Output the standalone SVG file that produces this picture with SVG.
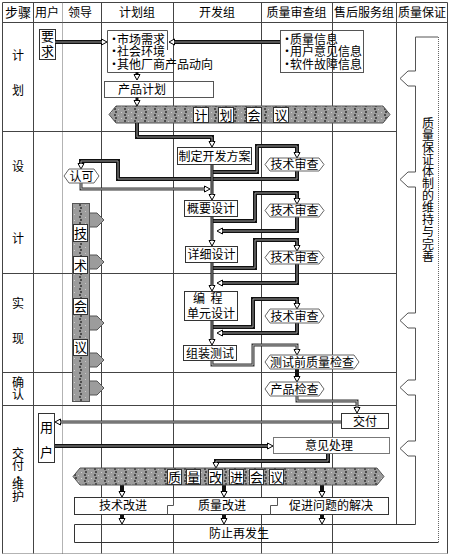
<svg xmlns="http://www.w3.org/2000/svg" width="450" height="556" viewBox="0 0 450 556">
<style>
.g{stroke:#444;stroke-width:1;fill:none}
.gd{stroke:#666;stroke-width:1;fill:none;stroke-dasharray:1 1}
.t{font-family:"Noto Sans CJK SC","Noto Sans CJK JP",sans-serif;font-size:12px;fill:#000}
.c{text-anchor:middle}
.v{writing-mode:vertical-rl;text-anchor:start}
.bu{letter-spacing:-3px}
.box{fill:#fff;stroke:#333;stroke-width:1}
.nb{fill:none;stroke:#555;stroke-width:1}
.hex{fill:#fff;stroke:#666;stroke-width:1}
.ch{fill:#fff;stroke:#333;stroke-width:1}
.tk{fill:none;stroke:#111;stroke-width:4}
.tm{fill:none;stroke:#111;stroke-width:3}
.tki{fill:none;stroke:#999;stroke-width:1}
.md{fill:none;stroke:#333;stroke-width:3}
.mdi{fill:none;stroke:#bbb;stroke-width:1}
.ban{stroke:#555;stroke-width:1}
</style>
<defs>
<pattern id="hz" width="10" height="6" patternUnits="userSpaceOnUse">
<rect width="10" height="6" fill="#9c9c9c"/>
<rect x="4" y="0" width="2" height="2" fill="#4d4d4d"/>
<rect x="5" y="3" width="2" height="2" fill="#4d4d4d"/>
<rect x="1" y="4" width="1" height="1" fill="#d0d0d0"/>
<rect x="8" y="1" width="1" height="1" fill="#c8c8c8"/>
</pattern>
<pattern id="vt" x="72" y="0" width="17" height="6" patternUnits="userSpaceOnUse">
<rect width="17" height="6" fill="#9c9c9c"/>
<rect x="7" y="0" width="2" height="2" fill="#4d4d4d"/>
<rect x="8" y="3" width="2" height="2" fill="#4d4d4d"/>
<rect x="2" y="4" width="1" height="1" fill="#d0d0d0"/>
<rect x="13" y="1" width="1" height="1" fill="#c8c8c8"/>
</pattern>
<marker id="ah" markerUnits="userSpaceOnUse" markerWidth="8" markerHeight="8" refX="1" refY="3.5" orient="auto" overflow="visible">
<path d="M0.5,0.5 L6,3.5 L0.5,6.5 z" fill="#fff" stroke="#000" stroke-width="1"/>
</marker>
</defs>
<rect width="450" height="556" fill="#fff"/>

<g id="grid">
<path class="g" d="M2.5,2.5 H447.5 V553.5 M2.5,2.5 V553.5 M2.5,22.5 H447.5"/>
<path class="gd" d="M2.5,553.5 H447.5"/>
<path class="g" d="M33.5,2.5 V553.5 M101.5,2.5 V553.5 M173.5,2.5 V553.5 M261.5,2.5 V553.5 M332.5,2.5 V553.5 M396.5,2.5 V524"/>
<path class="gd" d="M62.5,2.5 V553.5"/>
<path class="g" d="M2.5,131.5 H396.5 M2.5,273.5 H396.5 M2.5,372.5 H396.5 M2.5,405.5 H396.5"/>
</g>

<g id="header" class="t c">
<text x="18" y="17" style="font-size:13px">步骤</text>
<text x="47" y="17">用户</text>
<text x="80" y="17">领导</text>
<text x="137" y="17">计划组</text>
<text x="217" y="17">开发组</text>
<text x="296.5" y="17">质量审查组</text>
<text x="364" y="17">售后服务组</text>
<text x="422" y="17">质量保证</text>
</g>

<g id="steps" class="t">
<text class="c" x="18" y="59.5">计</text>
<text class="c" x="18" y="94.5">划</text>
<text class="c" x="18" y="170.5">设</text>
<text class="c" x="18" y="242.5">计</text>
<text class="c" x="18" y="307.5">实</text>
<text class="c" x="18" y="342.5">现</text>
<text class="v" x="18" y="376">确认</text>
<text class="v" x="18" y="447.5">交付<tspan style="letter-spacing:-5px">·</tspan>维护</text>
</g>

<g id="n-tizhi">
<path class="nb" d="M438,37 H415.5 V71 H408 L400,78.5 L408,86 H415.5 V172 H408 L400,179.5 L408,187 H415.5 V313 H408 L400,320.5 L408,328 H415.5 V380 H408 L400,387.5 L408,395 H415.5 V441 H408 L400,448.5 L408,456 H415.5 V524.5"/>
<path class="gd" d="M438.5,37 V542.5"/>
<text class="t v" x="428" y="117" style="letter-spacing:0.1px">质量保证体制的维持与完善</text>
</g>

<g id="n-yaoqiu">
<rect class="box" x="39.5" y="29.5" width="16" height="30"/>
<text class="t v" x="47.5" y="30" style="font-size:13px;letter-spacing:1.5px">要求</text>
</g>

<g id="n-shichang">
<path class="nb" d="M107.5,30.5 H167.5 V50 M107.5,30.5 V72.5 H173"/>
<text class="t" x="108" y="43.5"><tspan x="108" y="43.5"><tspan class="bu">·</tspan>市场需求</tspan><tspan x="108" y="56"><tspan class="bu">·</tspan>社会环境</tspan><tspan x="108" y="68.5"><tspan class="bu">·</tspan>其他厂商产品动向</tspan></text>
</g>

<g id="n-zhiliangxinxi">
<rect class="nb" x="280.5" y="30.5" width="83" height="42"/>
<text class="t" x="281" y="43.5"><tspan x="281" y="43.5"><tspan class="bu">·</tspan>质量信息</tspan><tspan x="281" y="56"><tspan class="bu">·</tspan>用户意见信息</tspan><tspan x="281" y="68.5"><tspan class="bu">·</tspan>软件故障信息</tspan></text>
</g>

<g id="n-chanpinjihua">
<rect class="nb" x="104.5" y="81.5" width="109" height="16"/>
<text class="t" x="118" y="93.5">产品计划</text>
</g>

<g id="n-jihuahuiyi">
<path class="ban" fill="url(#hz)" d="M109,114.5 L116,106 H383 L390,114.5 L383,123 H116 Z"/>
<rect class="ch" x="193.5" y="107.5" width="15" height="15"/>
<rect class="ch" x="218.5" y="107.5" width="15" height="15"/>
<rect class="ch" x="246.5" y="107.5" width="15" height="15"/>
<rect class="ch" x="273.5" y="107.5" width="15" height="15"/>
<text class="t c" x="201" y="119.5" style="font-size:13px">计</text>
<text class="t c" x="226" y="119.5" style="font-size:13px">划</text>
<text class="t c" x="254" y="119.5" style="font-size:13px">会</text>
<text class="t c" x="281" y="119.5" style="font-size:13px">议</text>
</g>

<g id="n-jishuhuiyi">
<rect class="ban" fill="url(#vt)" x="72.5" y="203.5" width="17" height="198"/>
<path class="ban" fill="#9c9c9c" d="M89.5,213 H97 L104,220 L97,227 H89.5 Z M89.5,255 H97 L104,262 L97,269 H89.5 Z M89.5,316 H97 L104,323 L97,330 H89.5 Z M89.5,353 H97 L104,360 L97,367 H89.5 Z M89.5,381 H97 L104,388 L97,395 H89.5 Z"/>
<rect class="ch" x="73.5" y="224.5" width="14" height="17"/>
<rect class="ch" x="73.5" y="256.5" width="14" height="17"/>
<rect class="ch" x="73.5" y="298.5" width="14" height="16"/>
<rect class="ch" x="73.5" y="339.5" width="14" height="16"/>
<text class="t c" x="80.5" y="237.5" style="font-size:13px">技</text>
<text class="t c" x="80.5" y="269.5" style="font-size:13px">术</text>
<text class="t c" x="80.5" y="311" style="font-size:13px">会</text>
<text class="t c" x="80.5" y="352" style="font-size:13px">议</text>
</g>

<g id="connectors">
<path class="tk" marker-end="url(#ah)" d="M55,42 H102"/><path class="tki" d="M55,42 H102"/>
<path class="tk" marker-end="url(#ah)" d="M280,42 H174"/><path class="tki" d="M280,42 H174"/>
<path class="tm" marker-end="url(#ah)" d="M137,72 V75"/>
<path class="tm" marker-end="url(#ah)" d="M137,97.5 V101"/>
<path class="tk" marker-end="url(#ah)" d="M137,123 V137 H212 V142"/><path class="tki" d="M137,123 V137 H212 V142"/>
<path class="tk" marker-end="url(#ah)" d="M212,172 H257 V146 H297 V153"/><path class="tki" d="M212,172 H257 V146 H297 V153"/>
<path class="tk" marker-end="url(#ah)" d="M297,171 V179 H118 V161 H81 V164"/><path class="tki" d="M297,171 V179 H118 V161 H81 V164"/>
<path class="md" marker-end="url(#ah)" d="M81,183 V189 H205"/><path class="mdi" d="M81,183 V189 H205"/>
<path class="tm" marker-end="url(#ah)" d="M212,164 V195"/><path class="tki" d="M212,164 V195"/>
<path class="tk" marker-end="url(#ah)" d="M212,221 H255 V193 H297 V199"/><path class="tki" d="M212,221 H255 V193 H297 V199"/>
<path class="tk" marker-end="url(#ah)" d="M297,217 V231 H222"/><path class="tki" d="M297,217 V231 H222"/>
<path class="tm" marker-end="url(#ah)" d="M212,216 V241"/><path class="tki" d="M212,216 V241"/>
<path class="tk" marker-end="url(#ah)" d="M212,268 H255 V240 H297 V246"/><path class="tki" d="M212,268 H255 V240 H297 V246"/>
<path class="tk" marker-end="url(#ah)" d="M297,264 V283 H222"/><path class="tki" d="M297,264 V283 H222"/>
<path class="tm" marker-end="url(#ah)" d="M212,262 V286"/><path class="tki" d="M212,262 V286"/>
<path class="tk" marker-end="url(#ah)" d="M212,327 H253 V299 H297 V304"/><path class="tki" d="M212,327 H253 V299 H297 V304"/>
<path class="tk" marker-end="url(#ah)" d="M297,323 V333 H222"/><path class="tki" d="M297,323 V333 H222"/>
<path class="tm" marker-end="url(#ah)" d="M212,320 V340"/><path class="tki" d="M212,320 V340"/>
<path class="md" marker-end="url(#ah)" d="M212,360 V365 H253 V345 H297 V350"/><path class="mdi" d="M212,360 V365 H253 V345 H297 V350"/>
<path class="tk" marker-end="url(#ah)" d="M297,369 V377"/>
<path class="md" marker-end="url(#ah)" d="M297,396 V401 H357 V408"/><path class="mdi" d="M297,396 V401 H357 V408"/>
<path class="md" marker-end="url(#ah)" d="M341,422 H60"/><path class="mdi" d="M341,422 H60"/>
<path class="tk" marker-end="url(#ah)" d="M54,446 H268"/><path class="tki" d="M54,446 H268"/>
<path class="tk" marker-end="url(#ah)" d="M328,453 V461 H216 V463"/><path class="tki" d="M328,453 V461 H216 V463"/>
<path class="tk" marker-end="url(#ah)" d="M122,485 V492"/>
<path class="tk" marker-end="url(#ah)" d="M224,485 V492"/>
<path class="tk" marker-end="url(#ah)" d="M322,485 V492"/>
<path class="tk" marker-end="url(#ah)" d="M122,514 V519"/>
<path class="tk" marker-end="url(#ah)" d="M224,514 V519"/>
<path class="tk" marker-end="url(#ah)" d="M322,514 V519"/>
</g>

<g id="n-zhiding">
<rect class="box" x="177.5" y="147.5" width="74" height="17"/>
<text class="t c" x="214.5" y="160.5">制定开发方案</text>
</g>
<g id="n-jishu1">
<path class="hex" d="M265,164.5 L270,158 H319 L324,164.5 L319,171 H270 Z"/>
<text class="t c" x="294.5" y="169">技术审查</text>
</g>
<g id="n-renke">
<path class="hex" d="M64,176 L69,169 H94 L99,176 L94,183 H69 Z"/>
<text class="t c" x="81.5" y="180.5">认可</text>
</g>
<g id="n-gaiyao">
<rect class="box" x="184.5" y="200.5" width="53" height="16"/>
<text class="t c" x="211" y="213">概要设计</text>
</g>
<g id="n-jishu2">
<path class="hex" d="M265,210.5 L270,204 H319 L324,210.5 L319,217 H270 Z"/>
<text class="t c" x="294.5" y="215">技术审查</text>
</g>
<g id="n-xiangxi">
<rect class="box" x="185.5" y="246.5" width="52" height="16"/>
<text class="t c" x="211.5" y="259">详细设计</text>
</g>
<g id="n-jishu3">
<path class="hex" d="M265,257.5 L270,251 H319 L324,257.5 L319,264 H270 Z"/>
<text class="t c" x="294.5" y="262">技术审查</text>
</g>
<g id="n-biancheng">
<rect class="box" x="184.5" y="291.5" width="53" height="29"/>
<text class="t c" x="211" y="303"><tspan x="199">编</tspan><tspan x="216.5">程</tspan><tspan x="211" dy="15">单元设计</tspan></text>
</g>
<g id="n-jishu4">
<path class="hex" d="M265,316 L270,309 H319 L324,316 L319,323 H270 Z"/>
<text class="t c" x="294.5" y="320.5">技术审查</text>
</g>
<g id="n-zuzhuang">
<rect class="box" x="183.5" y="345.5" width="53" height="15"/>
<text class="t c" x="210" y="357.5">组装测试</text>
</g>
<g id="n-ceshi">
<path class="hex" d="M265,362 L270,355 H354 L359,362 L354,369 H270 Z"/>
<text class="t c" x="312" y="366.5">测试前质量检查</text>
</g>
<g id="n-chanpinjiancha">
<path class="hex" d="M265,389 L270,382 H319 L324,389 L319,396 H270 Z"/>
<text class="t c" x="294.5" y="393.5">产品检查</text>
</g>
<g id="n-jiaofu">
<rect class="box" x="341.5" y="413.5" width="47" height="15"/>
<text class="t c" x="365" y="425.5">交付</text>
</g>
<g id="n-yonghu">
<rect class="box" x="38.5" y="413.5" width="16" height="49"/>
<text class="t v" x="46.5" y="420.5" style="font-size:13px;letter-spacing:12px">用户</text>
</g>
<g id="n-yijian">
<rect class="box" x="273.5" y="437.5" width="116" height="16" style="stroke:#777"/>
<text class="t c" x="329" y="450">意见处理</text>
</g>

<g id="n-gaijinhuiyi">
<path class="ban" fill="url(#hz)" d="M73,476.5 L80,468 H377 L384,476.5 L377,485 H80 Z"/>
<rect class="ch" x="167.5" y="469.5" width="14" height="15"/>
<rect class="ch" x="186.5" y="469.5" width="14" height="15"/>
<rect class="ch" x="208.5" y="469.5" width="14" height="15"/>
<rect class="ch" x="229.5" y="469.5" width="14" height="15"/>
<rect class="ch" x="249.5" y="469.5" width="14" height="15"/>
<rect class="ch" x="269.5" y="469.5" width="14" height="15"/>
<text class="t c" x="174.5" y="481.5" style="font-size:13px">质</text>
<text class="t c" x="193.5" y="481.5" style="font-size:13px">量</text>
<text class="t c" x="215.5" y="481.5" style="font-size:13px">改</text>
<text class="t c" x="236.5" y="481.5" style="font-size:13px">进</text>
<text class="t c" x="256.5" y="481.5" style="font-size:13px">会</text>
<text class="t c" x="276.5" y="481.5" style="font-size:13px">议</text>
</g>

<g id="n-gaijin">
<rect class="box" x="74.5" y="497.5" width="314" height="17"/>
<path class="nb" d="M167.5,514.5 V505.5 H173.5 V497.5 M270.5,514.5 V505.5 H277.5 V497.5"/>
<text class="t c" x="123" y="510">技术改进</text>
<text class="t c" x="222" y="510">质量改进</text>
<text class="t c" x="331" y="510">促进问题的解决</text>
</g>

<g id="n-fangzhi">
<path class="box" d="M74.5,524.5 H415.5 M438.5,542.5 H74.5 V524.5" style="fill:none"/>
<text class="t c" x="239" y="538">防止再发生</text>
</g>
</svg>
